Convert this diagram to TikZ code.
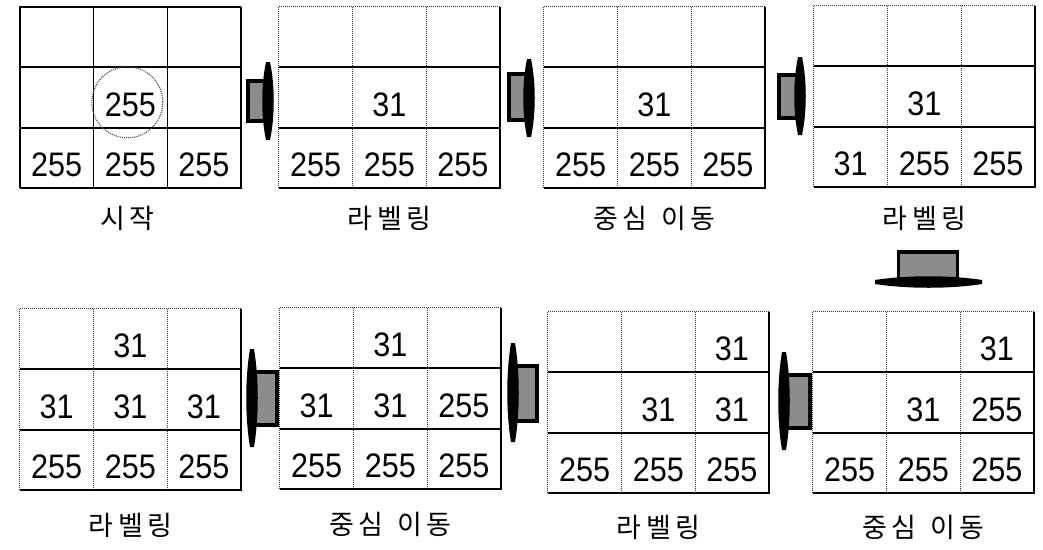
\documentclass[tikz,border=0pt]{standalone}
\usepackage{fontspec}
\setmainfont{Liberation Sans}
\newfontfamily\numfont[FakeStretch=0.9]{Liberation Sans}
\newfontfamily\krfont[LetterSpace=18]{Noto Sans CJK KR}
\usetikzlibrary{calc}
\tikzset{
 solidln/.style={line width=1.6pt, black},
 dotln/.style={line width=1pt, black!80, densely dotted},
 gridbox/.style={inner sep=0pt, minimum width=221pt, minimum height=181pt},
 num/.style={font=\numfont\fontsize{34}{34}\selectfont, inner sep=0pt},
 lbl/.style={font=\krfont\fontsize{27}{27}\selectfont, inner sep=0pt},
 arrbody/.style={draw=black, line width=3.2pt, fill=black!45, inner sep=0pt},
 arrbar/.style={fill=black},
}
\newcommand\mkgrid[4]{%
 \node[gridbox] (#1) at ({#2+110.5},{#3+90.5}) {};
 \draw[#4] ($(#1.north west)!1/3!(#1.north east)$) -- ($(#1.south west)!1/3!(#1.south east)$);
 \draw[#4] ($(#1.north west)!2/3!(#1.north east)$) -- ($(#1.south west)!2/3!(#1.south east)$);
 \draw[#4] (#1.south west) -- (#1.north west) -- (#1.north east);
 \draw[solidln] ($(#1.north west)!1/3!(#1.south west)$) -- ($(#1.north east)!1/3!(#1.south east)$);
 \draw[solidln] ($(#1.north west)!2/3!(#1.south west)$) -- ($(#1.north east)!2/3!(#1.south east)$);
 \draw[solidln] (#1.north east) -- (#1.south east) -- (#1.south west);
}
\newcommand\cv[4]{\node[num] (#1c#2#3) at ($(#1.north west)+({(#2+0.5)*73.67},{(#3+0.5)*60.33+7})$) {#4};}
% vertical-bar arrow: name, body left x, body right x, body top y, body bottom y, bar x, bar top y, bar bottom y
\newcommand\harr[8]{%
 \node[arrbody, minimum width={#3-#2}, minimum height={#5-#4}] (#1) at ({(#2+#3)/2},{(#4+#5)/2}) {};
 \fill[arrbar] ({#6-2},#7) -- ({#6+2},#7) .. controls ({#6+7},{#7+0.3*(#8-#7)}) and ({#6+7},{#8-0.3*(#8-#7)}) .. ({#6+2},#8)
   -- ({#6-2},#8) .. controls ({#6-7},{#8-0.3*(#8-#7)}) and ({#6-7},{#7+0.3*(#8-#7)}) .. cycle;
}
\begin{document}
\begin{tikzpicture}[x=1pt,y=-1pt]
\useasboundingbox[fill=white] (0,0) rectangle (1043,549);
% top row
\mkgrid{g1}{20}{7}{solidln}
\mkgrid{g2}{279}{7}{dotln}
\mkgrid{g3}{544}{7}{dotln}
\mkgrid{g4}{814}{6}{dotln}
% bottom row
\mkgrid{g5}{20}{309}{dotln}
\mkgrid{g6}{280}{308}{dotln}
\mkgrid{g7}{548}{312}{dotln}
\mkgrid{g8}{813}{312}{dotln}
% grid 1
\cv{g1}{1}{1}{255}
\cv{g1}{0}{2}{255}\cv{g1}{1}{2}{255}\cv{g1}{2}{2}{255}
\node[draw=black!70, densely dotted, line width=1.1pt, circle, minimum size=71pt, inner sep=0pt] (circ) at ($(g1c11)+(-3,-2)$) {};
% grid 2
\cv{g2}{1}{1}{31}
\cv{g2}{0}{2}{255}\cv{g2}{1}{2}{255}\cv{g2}{2}{2}{255}
% grid 3
\cv{g3}{1}{1}{31}
\cv{g3}{0}{2}{255}\cv{g3}{1}{2}{255}\cv{g3}{2}{2}{255}
% grid 4
\cv{g4}{1}{1}{31}
\cv{g4}{0}{2}{31}\cv{g4}{1}{2}{255}\cv{g4}{2}{2}{255}
% grid 5
\cv{g5}{1}{0}{31}
\cv{g5}{0}{1}{31}\cv{g5}{1}{1}{31}\cv{g5}{2}{1}{31}
\cv{g5}{0}{2}{255}\cv{g5}{1}{2}{255}\cv{g5}{2}{2}{255}
% grid 6
\cv{g6}{1}{0}{31}
\cv{g6}{0}{1}{31}\cv{g6}{1}{1}{31}\cv{g6}{2}{1}{255}
\cv{g6}{0}{2}{255}\cv{g6}{1}{2}{255}\cv{g6}{2}{2}{255}
% grid 7
\cv{g7}{2}{0}{31}
\cv{g7}{1}{1}{31}\cv{g7}{2}{1}{31}
\cv{g7}{0}{2}{255}\cv{g7}{1}{2}{255}\cv{g7}{2}{2}{255}
% grid 8
\cv{g8}{2}{0}{31}
\cv{g8}{1}{1}{31}\cv{g8}{2}{1}{255}
\cv{g8}{0}{2}{255}\cv{g8}{1}{2}{255}\cv{g8}{2}{2}{255}
% labels
\node[lbl] (l1) at ($(g1.south)+(-3,30)$) {시작};
\node[lbl] (l2) at ($(g2.south)+(0,30)$) {라벨링};
\node[lbl] (l3) at ($(g3.south)+(0,30)$) {중심\hspace{0.5em}이동};
\node[lbl] (l4) at ($(g4.south)+(0,31)$) {라벨링};
\node[lbl] (l5) at ($(g5.south)+(0,35)$) {라벨링};
\node[lbl] (l6) at ($(g6.south)+(0,35)$) {중심\hspace{0.5em}이동};
\node[lbl] (l7) at ($(g7.south)+(0,34)$) {라벨링};
\node[lbl] (l8) at ($(g8.south)+(0,34)$) {중심\hspace{0.5em}이동};
% arrows
\harr{a1}{248}{268}{81}{121}{268}{62}{140}
\harr{a2}{509}{528}{74}{120}{529}{59}{137}
\harr{a3}{779}{800}{75}{118}{800}{57}{135}
\harr{b1}{253}{277}{372}{425}{252}{349}{447}
\harr{b2}{514}{537}{366}{421}{513}{343}{442}
\harr{b3}{785}{810}{375}{428}{784}{352}{450}
\node[arrbody, minimum width=59pt, minimum height=28pt] (ad) at (928,266) {};
\fill[arrbar] (875,280) -- (875,284) .. controls (907,289) and (950,289) .. (982,284)
   -- (982,280) .. controls (950,275) and (907,275) .. cycle;
\end{tikzpicture}
\end{document}
